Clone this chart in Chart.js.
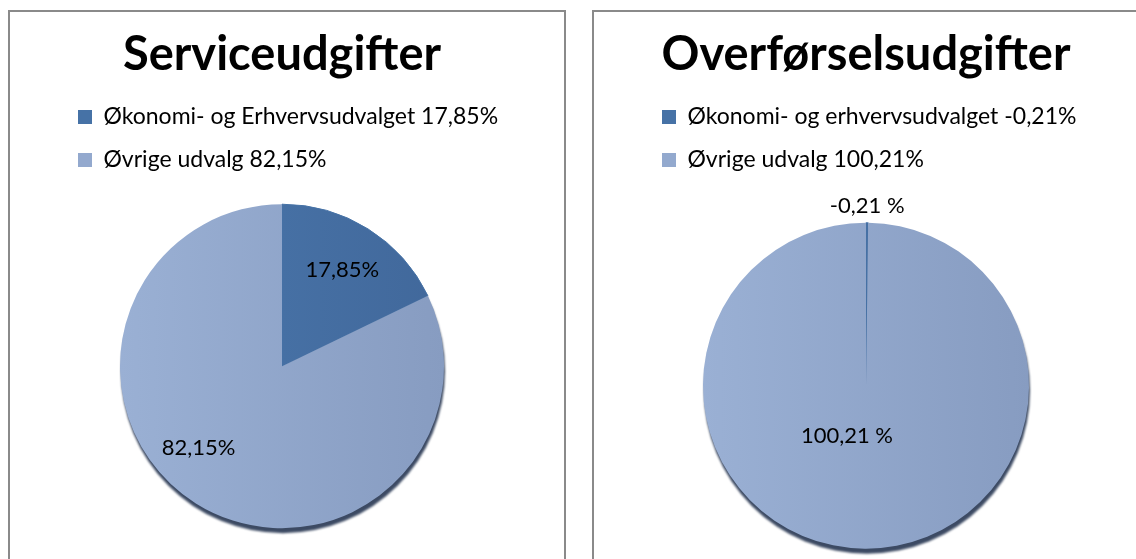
<!DOCTYPE html>
<html><head><meta charset="utf-8">
<script src="https://cdn.jsdelivr.net/npm/chart.js@4.4.1/dist/chart.umd.min.js"></script>
<style>
html,body{margin:0;padding:0;background:#fff;overflow:hidden;width:1136px;height:559px;}
.panel{position:absolute;top:10px;width:554px;height:600px;border:2px solid #8a8a8a;background:#fff;}
#p1{left:8px;} #p2{left:592px;}
canvas{position:absolute;left:0;top:0;}
</style></head><body>
<div class="panel" id="p1"><canvas id="c1" width="554" height="539"></canvas></div>
<div class="panel" id="p2"><canvas id="c2" width="554" height="578"></canvas></div>
<script>
// ---- data ----
const leftTitle = 'Serviceudgifter';
const leftCategories = ['Økonomi- og Erhvervsudvalget 17,85%', 'Øvrige udvalg 82,15%'];
const leftValues = [17.85, 82.15];
const leftSliceLabels = ['17,85%', '82,15%'];

const rightTitle = 'Overførselsudgifter';
const rightCategories = ['Økonomi- og erhvervsudvalget -0,21%', 'Øvrige udvalg 100,21%'];
const rightValues = [-0.21, 100.21];
const rightSliceLabels = ['-0,21 %', '100,21 %'];

// ---- style ----
const sliceColors = ['#4672A6', '#93A9CE'];
const gradStops = [['#4B78AD', '#41689B'], ['#9AB0D4', '#879CC1']];
const FONT = 'Lato';

Chart.defaults.font.family = FONT;
Chart.defaults.color = '#000';

function sliceFill(c) {
  const i = c.dataIndex;
  const area = c.chart.chartArea;
  if (!area) return sliceColors[i];
  const r = c.dataset.radius;
  const cx = (area.left + area.right) / 2;
  const g = c.chart.ctx.createLinearGradient(cx - r, 0, cx + r, 0);
  g.addColorStop(0, gradStops[i][0]);
  g.addColorStop(1, gradStops[i][1]);
  return g;
}

const shadowPlugin = {
  id: 'pieShadow',
  beforeDatasetsDraw(chart, args, opts) {
    const arc = chart.getDatasetMeta(0).data[0];
    if (!arc) return;
    const ctx = chart.ctx;
    ctx.save();
    ctx.fillStyle = opts.color;
    ctx.filter = 'blur(0.8px)';
    ctx.beginPath();
    ctx.arc(arc.x + opts.dx, arc.y + opts.dy, arc.outerRadius, 0, Math.PI * 2);
    ctx.fill();
    ctx.restore();
  }
};

const sliceLabelPlugin = {
  id: 'sliceLabels',
  afterDatasetsDraw(chart, args, opts) {
    const meta = chart.getDatasetMeta(0);
    const ctx = chart.ctx;
    ctx.save();
    ctx.font = opts.size + 'px ' + FONT;
    ctx.fillStyle = '#000';
    ctx.textAlign = 'center';
    ctx.textBaseline = 'middle';
    meta.data.forEach((arc, i) => {
      const p = opts.place[i];
      const mid = (arc.startAngle + arc.endAngle) / 2 + p.da * Math.PI / 180;
      const r = arc.outerRadius * p.f;
      ctx.fillText(opts.texts[i], arc.x + Math.cos(mid) * r, arc.y + Math.sin(mid) * r);
    });
    ctx.restore();
  }
};

function legendItems(chart) {
  const base = (Chart.overrides.pie || Chart.overrides.doughnut).plugins.legend.labels.generateLabels(chart);
  base.forEach((it, i) => { it.fillStyle = sliceColors[i]; it.strokeStyle = sliceColors[i]; it.lineWidth = 0; });
  return base;
}

function makePie(id, title, categories, values, sliceTexts, radius, place) {
  return new Chart(document.getElementById(id), {
    type: 'pie',
    data: {
      labels: categories,
      datasets: [{
        data: values,
        radius: radius,
        backgroundColor: sliceFill,
        borderColor: sliceColors[0],
        borderWidth: [1, 0]
      }]
    },
    options: {
      responsive: false,
      animation: false,
      layout: { padding: { left: 48, right: 58, top: 0, bottom: 0 } },
      plugins: {
        title: { display: true, text: title, color: '#000',
                 font: { size: 47, weight: 'bold', family: FONT, lineHeight: 1.2 },
                 padding: { top: 15, bottom: 2 } },
        legend: { display: true, position: 'top', align: 'start',
                  labels: { boxWidth: 14, boxHeight: 14, padding: 20, color: '#000',
                            font: { size: 23, family: FONT }, generateLabels: legendItems } },
        tooltip: { enabled: false },
        pieShadow: { color: '#3c4a63', dx: 1, dy: 5 },
        sliceLabels: { texts: sliceTexts, size: 22, place: place }
      }
    },
    plugins: [shadowPlugin, sliceLabelPlugin]
  });
}

makePie('c1', leftTitle, leftCategories, leftValues, leftSliceLabels, 162,
        [{ f: 0.70, da: 0 }, { f: 0.72, da: 13.5 }]);
makePie('c2', rightTitle, rightCategories, rightValues, rightSliceLabels, 163,
        [{ f: 1.10, da: 0 }, { f: 0.33, da: 20.4 }]);
</script>
</body></html>
